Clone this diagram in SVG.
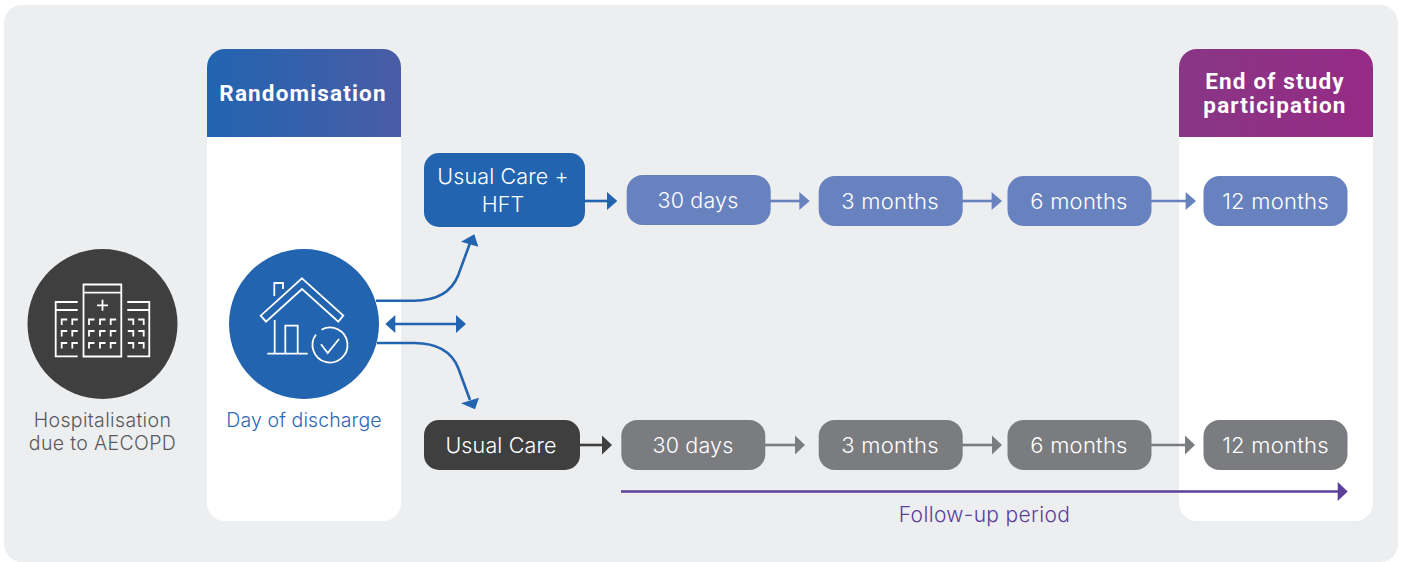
<svg xmlns="http://www.w3.org/2000/svg" width="1403" height="562" viewBox="0 0 1403 562">
<style>
text{font-family:"Inter","Liberation Sans",sans-serif;font-weight:300;text-anchor:middle}
.b{font-size:22px;fill:#fff;letter-spacing:.25px}
.n{font-size:21.500px;letter-spacing:.15px}
.box1{fill:#6882c0}.box2{fill:#7b7c7f}
.h{font-family:"Roboto","Liberation Sans",sans-serif;font-weight:700;font-size:22.500px;fill:#fff;letter-spacing:1.15px}
.ic{fill:none;stroke:#fff;stroke-width:1.8}
.c{fill:none;stroke-width:2.6}
.s{font-size:19.500px;letter-spacing:.35px}
</style>
<defs>
<linearGradient id="g1" x1="0" x2="1" y1="0" y2="0"><stop offset="0" stop-color="#2264b0"/><stop offset="1" stop-color="#4a5ca6"/></linearGradient>
<linearGradient id="g2" x1="0" x2="1" y1="0" y2="0"><stop offset="0" stop-color="#883686"/><stop offset="1" stop-color="#962b85"/></linearGradient>
</defs>
<rect width="1403" height="562" fill="#fff"/>
<rect x="4" y="5" width="1394" height="557" rx="18" fill="#edeef0"/>
<g id="col-randomisation">
<rect x="207" y="49" width="194" height="472" rx="18" fill="#fff"/>
<path d="M207 137V67a18 18 0 0 1 18-18h158a18 18 0 0 1 18 18v70z" fill="url(#g1)"/>
<text class="h" x="303" y="101">Randomisation</text>
</g>
<g id="col-end">
<rect x="1179" y="49" width="194" height="472" rx="18" fill="#fff"/>
<path d="M1179 137V67a18 18 0 0 1 18-18h158a18 18 0 0 1 18 18v70z" fill="url(#g2)"/>
<text class="h" x="1275" y="89">End of study</text>
<text class="h" x="1275" y="113">participation</text>
</g>
<g id="hospital">
<circle cx="102.500" cy="324" r="75" fill="#3f3f3f"/>
<path class="ic" d="M83.500 284.500h37.800v72h-37.800zM83.500 292.700h37.800M97 305.300h11M102.500 299.800v11M77.700 302H55.700v54.300H77.700M55.700 310H77.700M127.300 302h22v54.300h-22M127.300 310h22"/>
<path class="ic" d="M89 325v-5.500h5.500M100 325v-5.500h5.500M110.700 325v-5.500h5.500M89 336.500V331h5.500M100 336.500V331h5.500M110.700 336.500V331h5.500M89 348.500V343h5.500M100 348.500V343h5.500M110.700 348.500V343h5.500M61.700 325v-5.500h5.500M72.300 325v-5.500h5.500M61.700 336.500V331h5.500M72.300 336.500V331h5.500M61.700 348.500V343h5.500M72.300 348.500V343h5.500M133.300 325v-5.500h-5.500M143.700 325v-5.500h-5.500M133.300 336.500V331h-5.500M143.700 336.500V331h-5.500M133.300 348.500V343h-5.500M143.700 348.500V343h-5.500"/>
<text class="s" x="102.500" y="427" fill="#58595b">Hospitalisation</text>
<text class="s" x="102.500" y="450" fill="#58595b">due to AECOPD</text>
</g>
<g id="discharge">
<circle cx="304" cy="324" r="75" fill="#2264b0"/>
<path class="ic" d="M302 278.300L343.300 315.700L338.300 321.700L302 289L266 321.700L260.700 315.700zM274.300 296V283H283V289M274.700 320V353.700M267.300 353.700H307.700M285.300 353.700V325.700H297.700V353.700M321 344.300L327.700 353L339 339"/>
<path class="ic" d="M316 334.500A17.500 17.500 0 1 0 321.500 329.700"/>
<text x="304" y="427" font-size="19.500" letter-spacing=".1" fill="#2f69b2">Day of discharge</text>
</g>
<g id="connectors">
<g stroke="#2264b0" fill="#2264b0">
<path class="c" fill="none" d="M376 300.700H414C438 300.700 452 291 458.300 275L470 243"/>
<path stroke="none" d="M474.300 234.300L461 241.700L478.300 246.700z"/>
<path class="c" fill="none" d="M377 343H414C438 343 452 352 458.300 368.300L470 400"/>
<path stroke="none" d="M475 409.300L461 403.300L479 397.700z"/>
<path class="c" fill="none" d="M390 324H461"/>
<path stroke="none" d="M385.300 324L395.300 315V333zM466 324L456 315V333z"/>
<path class="c" fill="none" d="M585 201H608"/>
<path stroke="none" d="M617.300 201L607 192V210z"/>
</g>
<g stroke="#6882c0" fill="#6882c0">
<path class="c" fill="none" d="M770 201H800"/><path stroke="none" d="M809.700 201L799.300 192V210z"/>
<path class="c" fill="none" d="M962 201H992"/><path stroke="none" d="M1002 201L991.600 192V210z"/>
<path class="c" fill="none" d="M1151 201H1186"/><path stroke="none" d="M1196 201L1185.600 192V210z"/>
</g>
<g stroke="#3f3f3f" fill="#3f3f3f">
<path class="c" fill="none" d="M579 445H603"/><path stroke="none" d="M612 445L602 435.500V454.500z"/>
</g>
<g stroke="#7b7c7f" fill="#7b7c7f">
<path class="c" fill="none" d="M765 445H796"/><path stroke="none" d="M805 445L795 435.500V454.500z"/>
<path class="c" fill="none" d="M962 445H992"/><path stroke="none" d="M1002 445L992 435.500V454.500z"/>
<path class="c" fill="none" d="M1151 445H1186"/><path stroke="none" d="M1195 445L1185 435.500V454.500z"/>
</g>
<g stroke="#5c3f9b" fill="#5c3f9b">
<path class="c" fill="none" d="M621 491.500H1339"/><path stroke="none" d="M1347.700 491.500L1337.700 482V501z"/>
</g>
</g>
<g id="usual-hft"><rect x="424" y="153" width="161" height="74" rx="15" fill="#2264b0"/>
<text class="b n" x="503" y="184">Usual Care +</text><text class="b n" x="503" y="212">HFT</text></g>
<g id="top-30"><rect class="box1" x="626.700" y="175" width="144" height="50" rx="16"/><text class="b n" x="698" y="208">30 days</text></g>
<g id="top-3"><rect class="box1" x="818.700" y="176" width="144" height="50" rx="16"/><text class="b" x="890" y="209">3 months</text></g>
<g id="top-6"><rect class="box1" x="1007.500" y="176" width="144" height="50" rx="16"/><text class="b" x="1079" y="209">6 months</text></g>
<g id="top-12"><rect class="box1" x="1203.500" y="176" width="144" height="50" rx="16"/><text class="b" x="1275.500" y="209">12 months</text></g>
<g id="usual"><rect x="424" y="420" width="156" height="50" rx="15" fill="#3f3f3f"/><text class="b n" x="501" y="453">Usual Care</text></g>
<g id="low-30"><rect class="box2" x="621.300" y="420" width="144" height="50" rx="16"/><text class="b n" x="693" y="453">30 days</text></g>
<g id="low-3"><rect class="box2" x="818.700" y="420" width="144" height="50" rx="16"/><text class="b" x="890" y="453">3 months</text></g>
<g id="low-6"><rect class="box2" x="1007.500" y="420" width="144" height="50" rx="16"/><text class="b" x="1079" y="453">6 months</text></g>
<g id="low-12"><rect class="box2" x="1203.500" y="420" width="144" height="50" rx="16"/><text class="b" x="1275.500" y="453">12 months</text></g>
<text id="followup" x="984.500" y="522" font-size="21" letter-spacing=".35" fill="#5c3f9b">Follow-up period</text>
</svg>
